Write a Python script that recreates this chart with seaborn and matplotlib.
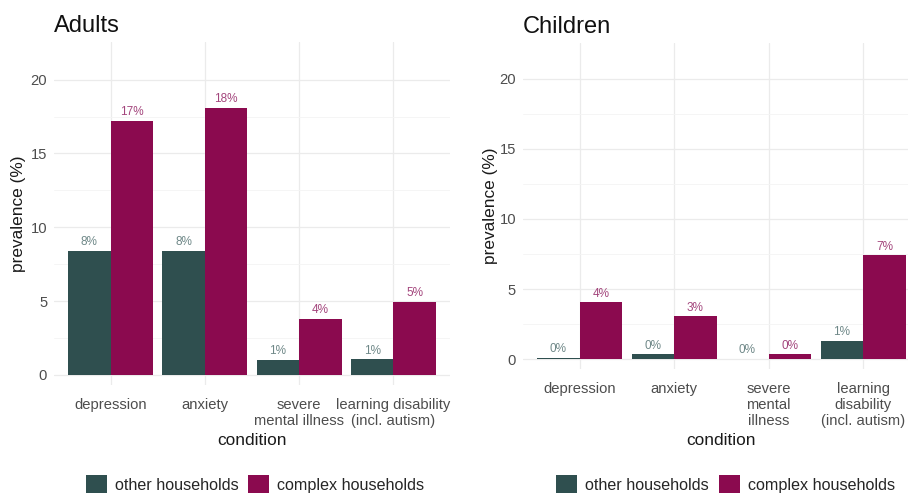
import pandas as pd
import matplotlib
matplotlib.use("Agg")
import matplotlib.pyplot as plt
import seaborn as sns
from matplotlib.patches import Patch

# values (prevalence in %)
conditions = ["depression", "anxiety", "severe mental illness", "learning disability (incl. autism)"]
adult_ticks = ["depression", "anxiety", "severe\nmental illness", "learning disability\n(incl. autism)"]
child_ticks = ["depression", "anxiety", "severe\nmental\nillness", "learning\ndisability\n(incl. autism)"]
groups = ["other households", "complex households"]
adults_other = [8.4, 8.4, 1.0, 1.05]
adults_complex = [17.2, 18.1, 3.8, 4.95]
children_other = [0.1, 0.35, 0.05, 1.3]
children_complex = [4.05, 3.05, 0.35, 7.4]

bar_colors = ["#2f4f4f", "#8b0a4f"]
label_colors = ["#6f8888", "#a3457c"]

sns.set_theme(style="whitegrid")
plt.rcParams["font.family"] = ["Liberation Sans", "DejaVu Sans"]


def make_df(other, complex_):
    return pd.DataFrame({
        "condition": conditions * 2,
        "household": [groups[0]] * 4 + [groups[1]] * 4,
        "prevalence": other + complex_,
    })


def draw_panel(ax, df, title, ticks, xlab_y, ylab_x):
    sns.barplot(data=df, x="condition", y="prevalence", hue="household",
                hue_order=groups, order=conditions, palette=bar_colors,
                width=0.9, saturation=1, errorbar=None, legend=False,
                edgecolor="none", linewidth=0, ax=ax)
    for cont, col in zip(ax.containers, label_colors):
        vals = cont.datavalues
        ax.bar_label(cont, labels=[f"{round(v)}%" for v in vals], padding=2,
                     fontsize=8.5, color=col)
    ax.set_xlim(-0.6, 3.6)
    ax.set_ylim(-0.7, 22.55)
    ax.set_yticks([0, 5, 10, 15, 20])
    ax.set_yticks([2.5, 7.5, 12.5, 17.5], minor=True)
    ax.set_xticks(range(4))
    ax.set_xticklabels(ticks)
    ax.grid(True, which="major", color="#ebebeb", linewidth=0.9)
    ax.grid(True, which="minor", axis="y", color="#f4f4f4", linewidth=0.6)
    ax.set_axisbelow(True)
    for s in ax.spines.values():
        s.set_visible(False)
    ax.tick_params(axis="both", length=0, labelsize=10.6, labelcolor="#4d4d4d")
    ax.tick_params(axis="x", pad=9)
    ax.tick_params(axis="y", pad=5)
    ax.set_xlabel("condition", fontsize=12.4, color="#1a1a1a")
    ax.xaxis.set_label_coords(0.5, xlab_y)
    ax.set_ylabel("prevalence (%)", fontsize=12.4, color="#1a1a1a")
    ax.yaxis.set_label_coords(ylab_x, 0.5)
    ax.set_title(title, loc="left", fontsize=17, color="#111111", pad=7)
    handles = [Patch(facecolor=c, edgecolor="none") for c in bar_colors]
    ax.legend(handles, groups, loc="center", ncol=2, frameon=False,
              fontsize=11.6, handlelength=1.3, handleheight=1.3,
              handletextpad=0.5, columnspacing=0.6)


fig = plt.figure(figsize=(9.08, 4.95), dpi=100)
ax1 = fig.add_axes([0.0595, 0.222, 0.436, 0.693])
ax2 = fig.add_axes([0.576, 0.2545, 0.437, 0.6586])

draw_panel(ax1, make_df(adults_other, adults_complex), "Adults", adult_ticks, -0.14, -0.07)
draw_panel(ax2, make_df(children_other, children_complex), "Children", child_ticks, -0.197, -0.063)

# legends sit at the bottom of the figure under each panel
for ax, cx in [(ax1, 0.281), (ax2, 0.799)]:
    ax.get_legend().set_bbox_to_anchor((cx, 0.022), transform=fig.transFigure)

fig.savefig("out.png", dpi=100)
